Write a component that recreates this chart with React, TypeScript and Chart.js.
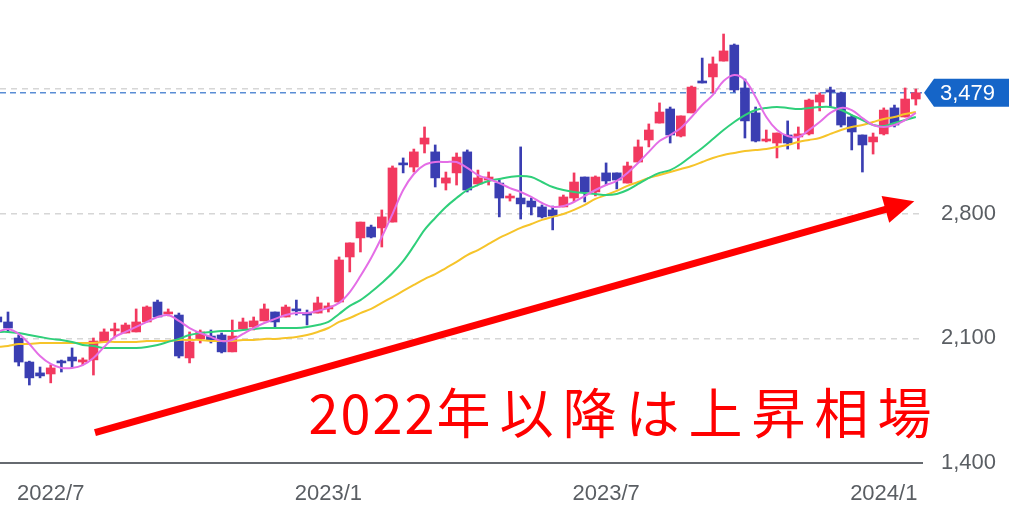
import React, { useEffect, useRef } from "react";
import { Chart, registerables } from "chart.js";

Chart.register(...registerables);

// ---------------- data ----------------
const START_DATE = "2022-05-30"; // first weekly candle (Monday)

const opens = [2220,2192,2102,1967,1906,1900,1973,1995,1967,1979,
2080,2142,2130,2136,2192,2304,2237,2231,1990,2097,
2113,2119,2024,2153,2164,2198,2248,2220,2265,2242,
2242,2265,2304,2557,2664,2725,2720,2753,3085,3062,
3191,3147,2972,3029,3147,2967,2989,2972,2888,2888,
2871,2838,2821,2838,2888,3006,2922,3029,3029,2972,
3090,3214,3309,3388,3236,3366,3545,3568,3657,3747,
3506,3366,3208,3197,3242,3231,3248,3427,3495,3478,
3343,3242,3203,3248,3394,3343,3444];

const highs = [2259,2248,2119,1972,1939,1951,1978,2046,1990,2102,
2153,2186,2186,2265,2282,2315,2265,2242,2136,2147,
2147,2130,2203,2214,2220,2293,2248,2287,2315,2259,
2332,2299,2557,2636,2753,2736,2821,3068,3113,3163,
3287,3186,3034,3141,3158,3045,3034,2989,2911,3175,
2888,2849,2843,2905,3029,3006,3012,3085,3029,3090,
3214,3304,3422,3399,3349,3517,3674,3680,3809,3753,
3556,3399,3270,3253,3321,3287,3444,3478,3511,3483,
3354,3242,3253,3394,3410,3506,3500];

const lows = [2170,2136,1945,1838,1878,1850,1911,1939,1951,1894,
2080,2108,2130,2136,2192,2220,2226,1990,1962,2074,
2074,2018,2024,2153,2147,2198,2164,2220,2231,2175,
2242,2248,2299,2473,2585,2664,2613,2753,3029,3034,
3141,2950,2933,2961,2922,2967,2961,2782,2871,2770,
2793,2776,2709,2838,2866,2866,2900,2961,2939,2972,
3090,3175,3309,3197,3231,3366,3534,3478,3657,3483,
3225,3203,3203,3113,3163,3163,3242,3377,3399,3287,
3158,3034,3135,3242,3287,3343,3410];

const closes = [2192,2158,1967,1878,1889,1934,1962,1973,1979,2085,
2136,2153,2175,2192,2276,2220,2248,2001,2080,2136,
2091,2024,2113,2192,2198,2265,2192,2276,2254,2231,
2299,2282,2540,2636,2753,2669,2782,3057,3074,3147,
3225,3001,3001,3118,2933,3001,3006,2888,2899,2855,
2838,2782,2787,2894,2978,2922,3006,2984,2989,3068,
3175,3270,3371,3242,3349,3511,3534,3641,3714,3495,
3321,3208,3219,3253,3197,3248,3438,3467,3483,3298,
3259,3186,3231,3382,3298,3444,3479];

// moving averages
const maShort = [2136,2153,2125,2068,2001,1956,1934,1934,1950,1990,
2052,2108,2136,2164,2192,2220,2231,2198,2158,2130,
2108,2085,2091,2125,2158,2186,2209,2231,2242,2242,
2254,2271,2299,2360,2450,2551,2669,2798,2933,3023,
3074,3090,3090,3090,3057,3017,2995,2972,2944,2922,
2894,2860,2838,2843,2866,2899,2933,2961,2984,3029,
3085,3147,3208,3242,3281,3343,3410,3467,3545,3579,
3551,3455,3343,3270,3236,3231,3270,3315,3366,3394,
3382,3337,3298,3287,3298,3326,3366];

const maMid = [2136,2136,2130,2119,2108,2097,2091,2080,2063,2057,
2046,2046,2046,2046,2052,2063,2080,2097,2119,2130,
2136,2141,2141,2147,2153,2158,2158,2158,2158,2164,
2175,2192,2237,2282,2315,2360,2411,2467,2534,2619,
2709,2776,2838,2888,2933,2961,2984,2995,3006,3012,
3006,2978,2950,2933,2922,2916,2911,2905,2911,2933,
2967,3001,3029,3045,3079,3124,3169,3219,3270,3315,
3354,3382,3394,3399,3394,3388,3394,3399,3399,3382,
3354,3326,3298,3292,3309,3326,3343];

const maLong = [2052,2057,2068,2068,2074,2074,2074,2074,2074,2074,
2080,2080,2080,2080,2085,2085,2085,2091,2091,2091,
2085,2085,2085,2091,2091,2097,2097,2102,2108,2119,
2136,2158,2192,2214,2242,2265,2299,2332,2366,2400,
2433,2461,2495,2529,2568,2596,2630,2664,2692,2720,
2742,2765,2782,2798,2821,2849,2883,2905,2928,2956,
2978,3001,3017,3034,3051,3068,3090,3113,3130,3141,
3152,3158,3163,3175,3186,3203,3214,3225,3248,3270,
3287,3298,3315,3332,3343,3360,3371];

const xTickLabels = ["2022/7", "2023/1", "2023/7", "2024/1"];
const xTickDates = ["2022-07-04", "2023-01-02", "2023-07-03", "2024-01-01"];
const yTickValues = [1400, 2100, 2800, 3500];
const yTickLabels = ["1,400", "2,100", "2,800", ""];

const lastPrice = 3479;
const lastPriceLabel = "3,479";

const annotationText = "2022年以降は上昇相場";
const arrowFrom = { date: "2022-08-02", value: 1570 };
const arrowTo = { date: "2024-01-21", value: 2870 };
const textAnchor = { date: "2022-12-20", value: 1565 };

// ---------------- helpers ----------------
const DAY = 86400000;
const dayOf = (d: string) => (Date.parse(d) - Date.parse(START_DATE)) / DAY;
const candleDay = (i: number) => i * 7;

const RED = "#f2395f";
const BLUE = "#3a3eb2";
const PINK = "#e46ee6";
const GREEN = "#2fcf7a";
const YELLOW = "#f6c42a";
const TICK_FONT = { family: "'Liberation Sans', Arial, sans-serif", size: 22 };

const candleColor = (i: number) => (closes[i] >= opens[i] ? RED : BLUE);

const overlayPlugin = {
  id: "overlay",
  beforeDatasetsDraw(chart: any) {
    const { ctx, chartArea, scales } = chart;
    const py = scales.y.getPixelForValue(lastPrice);
    ctx.save();
    ctx.strokeStyle = "#5a8dd5";
    ctx.lineWidth = 1.6;
    ctx.setLineDash([6, 4]);
    ctx.beginPath();
    ctx.moveTo(chartArea.left, py);
    ctx.lineTo(chartArea.right, py);
    ctx.stroke();
    ctx.restore();
  },
  afterDatasetsDraw(chart: any) {
    const { ctx, scales } = chart;
    const x = scales.x;
    const y = scales.y;
    // arrow
    const x1 = x.getPixelForValue(dayOf(arrowFrom.date));
    const y1 = y.getPixelForValue(arrowFrom.value);
    const x2 = x.getPixelForValue(dayOf(arrowTo.date));
    const y2 = y.getPixelForValue(arrowTo.value);
    const ang = Math.atan2(y2 - y1, x2 - x1);
    const headLen = 30;
    const headHalf = 14;
    const bx = x2 - headLen * Math.cos(ang);
    const by = y2 - headLen * Math.sin(ang);
    ctx.save();
    ctx.strokeStyle = "#ff0000";
    ctx.fillStyle = "#ff0000";
    ctx.lineWidth = 7;
    ctx.lineCap = "butt";
    ctx.beginPath();
    ctx.moveTo(x1, y1);
    ctx.lineTo(bx + 2 * Math.cos(ang), by + 2 * Math.sin(ang));
    ctx.stroke();
    ctx.beginPath();
    ctx.moveTo(x2, y2);
    ctx.lineTo(bx + headHalf * Math.sin(ang), by - headHalf * Math.cos(ang));
    ctx.lineTo(bx - headHalf * Math.sin(ang), by + headHalf * Math.cos(ang));
    ctx.closePath();
    ctx.fill();

    // annotation text
    let tx = x.getPixelForValue(dayOf(textAnchor.date));
    const ty = y.getPixelForValue(textAnchor.value);
    ctx.font = "400 54px 'Noto Sans CJK JP', sans-serif";
    ctx.textBaseline = "alphabetic";
    ctx.textAlign = "left";
    const segs = annotationText.match(/[\x00-\x7F]+|[^\x00-\x7F]+/g) || [];
    for (const seg of segs) {
      const ascii = /^[\x00-\x7F]+$/.test(seg);
      const sp = ascii ? 2 : 9;
      (ctx as any).letterSpacing = "0px";
      const w = ctx.measureText(seg).width + sp * seg.length;
      (ctx as any).letterSpacing = sp + "px";
      ctx.fillText(seg, tx, ty);
      tx += w;
    }
    (ctx as any).letterSpacing = "0px";
    ctx.restore();
  },
  afterDraw(chart: any) {
    const { ctx, chartArea, scales } = chart;
    const py = scales.y.getPixelForValue(lastPrice);
    const r = chartArea.right;
    ctx.save();
    ctx.fillStyle = "#1565c8";
    ctx.beginPath();
    ctx.moveTo(r + 2, py);
    ctx.lineTo(r + 12, py - 14);
    ctx.lineTo(r + 87, py - 14);
    ctx.lineTo(r + 87, py + 14);
    ctx.lineTo(r + 12, py + 14);
    ctx.closePath();
    ctx.fill();
    ctx.fillStyle = "#ffffff";
    ctx.font = "22px 'Liberation Sans', Arial, sans-serif";
    ctx.textBaseline = "middle";
    ctx.textAlign = "left";
    ctx.fillText(lastPriceLabel, r + 18, py + 1);
    ctx.restore();
  },
};

export default function App() {
  const canvasRef = useRef<HTMLCanvasElement | null>(null);

  useEffect(() => {
    const canvas = canvasRef.current;
    if (!canvas) return;
    const xs = opens.map((_, i) => candleDay(i));

    const chart = new Chart(canvas, {
      type: "bar",
      data: {
        datasets: [
          {
            type: "line",
            data: xs.map((d, i) => ({ x: d, y: maLong[i] })),
            borderColor: YELLOW,
            borderWidth: 2,
            pointRadius: 0,
            tension: 0.35,
            order: 2,
          } as any,
          {
            type: "line",
            data: xs.map((d, i) => ({ x: d, y: maMid[i] })),
            borderColor: GREEN,
            borderWidth: 2,
            pointRadius: 0,
            tension: 0.35,
            order: 1,
          } as any,
          {
            type: "line",
            data: xs.map((d, i) => ({ x: d, y: maShort[i] })),
            borderColor: PINK,
            borderWidth: 2,
            pointRadius: 0,
            tension: 0.35,
            order: 0,
          } as any,
          {
            type: "bar",
            data: xs.map((d, i) => ({ x: d, y: [opens[i], closes[i]] })),
            backgroundColor: (c: any) => candleColor(c.dataIndex),
            barThickness: 9,
            minBarLength: 2,
            grouped: false,
            borderWidth: 0,
            order: 3,
          } as any,
          {
            type: "bar",
            data: xs.map((d, i) => ({ x: d, y: [lows[i], highs[i]] })),
            backgroundColor: (c: any) => candleColor(c.dataIndex),
            barThickness: 2,
            grouped: false,
            borderWidth: 0,
            order: 4,
          } as any,
        ],
      },
      options: {
        animation: false,
        responsive: false,
        maintainAspectRatio: false,
        layout: { padding: 0, autoPadding: false },
        plugins: {
          legend: { display: false },
          tooltip: { enabled: false },
        },
        scales: {
          x: {
            type: "linear",
            min: 1.757,
            max: 606.05,
            offset: false,
            grid: { display: false, offset: false },
            border: { display: true, color: "#666a70", width: 2 },
            afterBuildTicks: (scale: any) => {
              scale.ticks = xTickDates.map((d) => ({ value: dayOf(d) }));
            },
            afterFit: (scale: any) => {
              scale.height = 42;
              scale.paddingLeft = 0;
              scale.paddingRight = 0;
              scale.paddingTop = 0;
              scale.paddingBottom = 0;
            },
            ticks: {
              autoSkip: false,
              maxRotation: 0,
              minRotation: 0,
              padding: 10,
              color: "#5a5e63",
              font: TICK_FONT,
              callback: (_v: any, idx: number) => xTickLabels[idx],
            },
          },
          y: {
            type: "linear",
            position: "right",
            min: 1400,
            max: 4000,
            afterBuildTicks: (scale: any) => {
              scale.ticks = yTickValues.map((v) => ({ value: v }));
            },
            afterFit: (scale: any) => {
              scale.width = 102;
              scale.paddingTop = 0;
              scale.paddingBottom = 0;
              scale.paddingLeft = 0;
              scale.paddingRight = 0;
            },
            grid: {
              drawTicks: false,
              lineWidth: 1.5,
              color: (c: any) => (c.tick && c.tick.value === 1400 ? "rgba(0,0,0,0)" : "#d6d6d6"),
            },
            border: { display: false, dash: [6, 5] },
            ticks: {
              padding: 19,
              color: "#5a5e63",
              font: TICK_FONT,
              callback: (_v: any, idx: number) => yTickLabels[idx],
            },
          },
        },
      } as any,
      plugins: [overlayPlugin],
    });

    return () => chart.destroy();
  }, []);

  return (
    <div style={{ position: "absolute", left: 0, top: 0, width: 1024, height: 505, background: "#fff" }}>
      <canvas ref={canvasRef} width={1024} height={505} style={{ display: "block", width: 1024, height: 505 }} />
    </div>
  );
}
